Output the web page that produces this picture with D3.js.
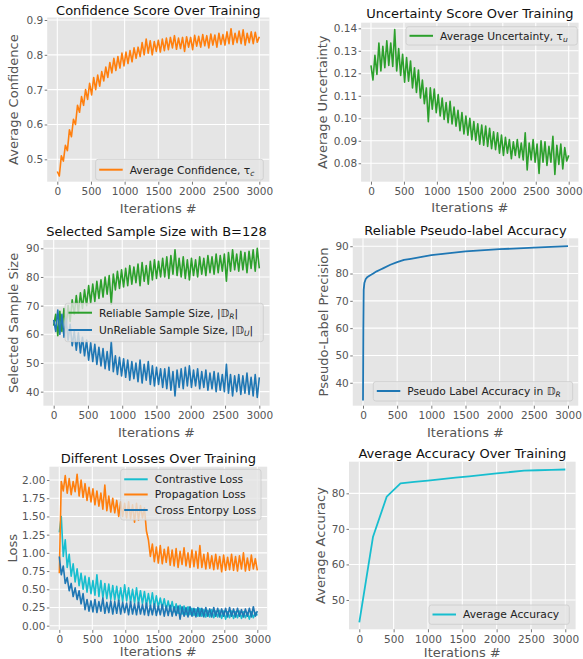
<!DOCTYPE html>
<meta charset="utf-8">
<style>
body {
  margin: 0;
  background-color: #fff;
}
svg text {
  font-family: "DejaVu Sans", sans-serif;
}
.grid line {
  stroke: #fff;
  stroke-width: 1.1px;
}
.axis .tick text {
  fill: #555;
  font-size: 10.5px;
  font-family: "DejaVu Sans", sans-serif;
}
.axis .tick line {
  stroke: #555;
  stroke-width: 0.8px;
}
.title {
  font-size: 13px;
  fill: #111;
}
.label {
  font-size: 13px;
  fill: #555;
}
.legend text {
  font-size: 10.7px;
  fill: #222;
}
</style>
<svg class="chart" width="583" height="659"></svg>

<script src="https://cdn.jsdelivr.net/npm/d3@7"></script>
<script>
// x positions shared by the noisy training curves (every 30 iterations)
var iters = d3.range(0, 3001, 30);
var xTicks = [0, 500, 1000, 1500, 2000, 2500, 3000];

var confidence = [
  0.465, 0.452, 0.51, 0.495, 0.54, 0.525, 0.585, 0.565, 0.615, 0.60,
  0.655, 0.635, 0.68, 0.655, 0.70, 0.672, 0.718, 0.685, 0.735, 0.70,
  0.742, 0.71, 0.752, 0.725, 0.765, 0.735, 0.778, 0.748, 0.79, 0.755,
  0.795, 0.762, 0.805, 0.768, 0.808, 0.775, 0.812, 0.78, 0.82, 0.79,
  0.822, 0.795, 0.835, 0.80, 0.845, 0.805, 0.84, 0.80, 0.838, 0.81,
  0.842, 0.808, 0.845, 0.812, 0.848, 0.815, 0.85, 0.82, 0.855, 0.816,
  0.848, 0.818, 0.85, 0.81, 0.852, 0.822, 0.85, 0.815, 0.856, 0.825,
  0.853, 0.822, 0.858, 0.826, 0.855, 0.82, 0.86, 0.828, 0.857, 0.822,
  0.862, 0.83, 0.858, 0.828, 0.866, 0.832, 0.875, 0.83, 0.862, 0.835,
  0.868, 0.832, 0.872, 0.828, 0.862, 0.835, 0.866, 0.832, 0.865, 0.836,
  0.852];

var uncertainty = [
  0.1235, 0.117, 0.128, 0.1195, 0.1335, 0.121, 0.132, 0.1225, 0.1345, 0.1235,
  0.1335, 0.123, 0.1395, 0.121, 0.131, 0.119, 0.1285, 0.116, 0.127, 0.1165,
  0.1255, 0.1135, 0.1225, 0.1115, 0.1215, 0.109, 0.117, 0.1065, 0.1135, 0.0985,
  0.1135, 0.104, 0.113, 0.1025, 0.1105, 0.101, 0.109, 0.0995, 0.107, 0.098,
  0.1075, 0.0975, 0.105, 0.0965, 0.1035, 0.0945, 0.1025, 0.093, 0.101, 0.0925,
  0.1, 0.0905, 0.0985, 0.09, 0.0975, 0.0885, 0.097, 0.088, 0.0965, 0.0875,
  0.0955, 0.0865, 0.094, 0.086, 0.0935, 0.0845, 0.0925, 0.0835, 0.0915, 0.0845,
  0.0905, 0.082, 0.0895, 0.0835, 0.0905, 0.0825, 0.089, 0.0815, 0.0935, 0.077,
  0.089, 0.0815, 0.0905, 0.0805, 0.0885, 0.0755, 0.09, 0.0805, 0.0895, 0.079,
  0.0875, 0.0805, 0.092, 0.075, 0.088, 0.0795, 0.0885, 0.0775, 0.087, 0.081,
  0.0835];

var reliableSize = [
  63, 67, 59.5, 68, 61, 69, 62.5, 70, 64.5, 72,
  67, 73.5, 67.5, 74.5, 69, 75.5, 70, 77, 71, 77.5,
  71.5, 78.5, 72.5, 79, 73, 80, 74, 80.5, 70.5, 81,
  75.5, 82, 76, 82.5, 76.5, 83, 77, 84, 77.5, 83.5,
  78, 84.5, 77, 85, 78.5, 84, 77.5, 85.5, 79, 86,
  79.5, 85.5, 80, 86.5, 80, 87, 79.5, 87.5, 81, 89.5,
  80.5, 86.5, 80, 87, 79.5, 86, 79, 86.5, 80.5, 86,
  80, 87, 81, 86.5, 80.5, 87.5, 81.5, 87, 81, 88,
  81.5, 87.5, 82, 88, 78.5, 88.5, 82, 89.5, 82.5, 88,
  82, 89, 82.5, 88.5, 81.5, 89, 83, 89.5, 82, 90,
  83];

var unreliableSize = [
  65, 61, 68.5, 60, 67, 59, 65.5, 58, 63.5, 56,
  61, 54.5, 60.5, 53.5, 59, 52.5, 58, 51, 57, 50.5,
  56.5, 49.5, 55.5, 49, 55, 48, 54, 47.5, 57.5, 47,
  52.5, 46, 52, 45.5, 51.5, 45, 51, 44, 50.5, 44.5,
  50, 43.5, 51, 43, 49.5, 44, 50.5, 42.5, 49, 42,
  48.5, 42.5, 48, 41.5, 48, 41, 48.5, 40.5, 47, 38.5,
  47.5, 41.5, 48, 41, 48.5, 42, 49, 41.5, 47.5, 42,
  48, 41, 47, 41.5, 47.5, 40.5, 46.5, 41, 47, 40,
  46.5, 40.5, 46, 40, 49.5, 39.5, 46, 38.5, 45.5, 40,
  46, 39, 45.5, 39.5, 46.5, 39, 45, 38.5, 46, 38,
  45];

var precIters = [0, 5, 10, 20, 40, 60, 100, 150, 200, 250, 300, 400, 500, 600, 700, 800, 1000, 1200, 1500, 2000, 2500, 3000];
var precision = [33.5, 60, 74, 76.5, 78, 78.6, 79.3, 80, 80.8, 81.4, 82, 83.2, 84.2, 85, 85.4, 85.8, 86.7, 87.3, 88.1, 88.9, 89.5, 90.0];

var contrastiveLoss = [
  1.28, 1.5, 0.95, 1.18, 0.8, 0.98, 0.68, 0.85, 0.6, 0.78,
  0.55, 0.72, 0.5, 0.68, 0.46, 0.66, 0.44, 0.62, 0.42, 0.7,
  0.4, 0.62, 0.38, 0.58, 0.37, 0.57, 0.36, 0.55, 0.35, 0.54,
  0.34, 0.52, 0.33, 0.56, 0.34, 0.52, 0.32, 0.5, 0.31, 0.52,
  0.3, 0.48, 0.3, 0.47, 0.28, 0.44, 0.27, 0.45, 0.26, 0.41,
  0.25, 0.38, 0.24, 0.37, 0.22, 0.34, 0.2, 0.33, 0.19, 0.3,
  0.17, 0.28, 0.16, 0.27, 0.15, 0.26, 0.15, 0.24, 0.14, 0.23,
  0.13, 0.24, 0.13, 0.22, 0.12, 0.21, 0.12, 0.22, 0.11, 0.2,
  0.12, 0.21, 0.1, 0.2, 0.09, 0.19, 0.11, 0.2, 0.1, 0.19,
  0.11, 0.2, 0.1, 0.19, 0.11, 0.18, 0.09, 0.19, 0.11, 0.18,
  0.14];

var propagationLoss = [
  0.72, 1.98, 1.85, 2.06, 1.82, 2.02, 1.8, 1.98, 1.84, 2.08,
  1.78, 2.0, 1.76, 1.95, 1.72, 1.9, 1.7, 1.88, 1.66, 1.85,
  1.64, 1.82, 1.6, 1.93, 1.58, 1.78, 1.56, 1.75, 1.55, 1.72,
  1.5, 1.7, 1.5, 1.68, 1.48, 1.7, 1.47, 1.66, 1.42, 1.68,
  1.45, 1.65, 1.48, 1.62, 1.3, 1.18, 0.95, 1.12, 0.88, 1.08,
  0.86, 1.1, 0.85, 1.05, 0.87, 1.08, 0.83, 1.04, 0.82, 1.06,
  0.8, 1.02, 0.84, 1.07, 0.82, 1.0, 0.8, 1.04, 0.81, 1.02,
  0.79, 1.1, 0.8, 0.98, 0.78, 1.0, 0.79, 0.96, 0.77, 0.98,
  0.78, 0.95, 0.74, 0.97, 0.76, 0.94, 0.77, 0.98, 0.76, 0.95,
  0.75, 0.96, 0.78, 1.0, 0.75, 0.93, 0.76, 0.97, 0.78, 0.92,
  0.76];

var crossEntropyLoss = [
  0.95, 0.7, 0.82, 0.58, 0.66, 0.48, 0.58, 0.4, 0.52, 0.36,
  0.48, 0.3, 0.44, 0.22, 0.36, 0.2, 0.34, 0.19, 0.36, 0.18,
  0.33, 0.2, 0.38, 0.17, 0.32, 0.18, 0.34, 0.16, 0.33, 0.17,
  0.35, 0.16, 0.32, 0.18, 0.31, 0.15, 0.33, 0.16, 0.3, 0.15,
  0.32, 0.16, 0.29, 0.15, 0.31, 0.14, 0.28, 0.15, 0.3, 0.14,
  0.27, 0.15, 0.29, 0.13, 0.27, 0.14, 0.28, 0.13, 0.26, 0.14,
  0.27, 0.09, 0.26, 0.13, 0.25, 0.12, 0.26, 0.13, 0.24, 0.12,
  0.25, 0.13, 0.24, 0.12, 0.25, 0.13, 0.23, 0.12, 0.25, 0.13,
  0.24, 0.12, 0.23, 0.13, 0.24, 0.12, 0.25, 0.13, 0.23, 0.12,
  0.24, 0.13, 0.22, 0.12, 0.23, 0.13, 0.24, 0.12, 0.26, 0.13,
  0.2];

var accIters = [0, 200, 400, 600, 800, 1000, 1200, 1400, 1600, 1800, 2000, 2200, 2400, 2600, 2800, 3000];
var accuracy = [43.7, 67.8, 79.1, 82.8, 83.2, 83.6, 84.0, 84.4, 84.8, 85.2, 85.6, 86.0, 86.4, 86.5, 86.6, 86.7];

var orange = "#ff7f0e", green = "#2ca02c", blue = "#1f77b4", cyan = "#17becf";

var svg = d3.select(".chart");

function drawPanel(p) {
  var x = d3.scaleLinear().domain([-150, 3150]).range([p.left, p.right]);
  var y = d3.scaleLinear().domain(p.ydom).range([p.bottom, p.top]);
  var g = svg.append("g");

  g.append("rect")
    .attr("x", p.left).attr("y", p.top)
    .attr("width", p.right - p.left).attr("height", p.bottom - p.top)
    .attr("fill", "#E5E5E5");

  // grid
  g.append("g").attr("class", "grid")
    .selectAll("line").data(xTicks).enter().append("line")
    .attr("x1", x).attr("x2", x).attr("y1", p.top).attr("y2", p.bottom);
  g.append("g").attr("class", "grid")
    .selectAll("line").data(p.yticks).enter().append("line")
    .attr("y1", y).attr("y2", y).attr("x1", p.left).attr("x2", p.right);

  g.append("g").attr("class", "axis")
    .attr("transform", "translate(0," + p.bottom + ")")
    .call(d3.axisBottom(x).tickValues(xTicks).tickSize(3).tickPadding(3).tickFormat(d3.format("d")))
    .call(function(a) { a.select(".domain").remove(); });
  g.append("g").attr("class", "axis")
    .attr("transform", "translate(" + p.left + ",0)")
    .call(d3.axisLeft(y).tickValues(p.yticks).tickSize(2.5).tickPadding(1.5).tickFormat(d3.format(p.fmt)))
    .call(function(a) { a.select(".domain").remove(); });

  p.series.forEach(function(s) {
    var pts = s.ys.map(function(v, i) { return [s.xs[i], v]; });
    g.append("path")
      .datum(pts)
      .attr("fill", "none")
      .attr("stroke", s.color)
      .attr("stroke-width", s.width)
      .attr("stroke-linejoin", "round")
      .attr("d", d3.line().x(function(d) { return x(d[0]); }).y(function(d) { return y(d[1]); }));
  });

  g.append("text").attr("class", "title")
    .attr("x", (p.left + p.right) / 2).attr("y", p.titleY)
    .attr("text-anchor", "middle").text(p.title);
  g.append("text").attr("class", "label")
    .attr("x", (p.left + p.right) / 2).attr("y", p.xlabelY)
    .attr("text-anchor", "middle").text("Iterations #");
  g.append("text").attr("class", "label")
    .attr("transform", "translate(" + p.ylabelX + "," + (p.top + p.bottom) / 2 + ") rotate(-90)")
    .attr("text-anchor", "middle").text(p.ylabel);

  // legend
  var lg = g.append("g").attr("class", "legend");
  var L = p.legend;
  lg.append("rect")
    .attr("x", L.x).attr("y", L.y).attr("width", L.w).attr("height", L.h)
    .attr("rx", 2.5)
    .attr("fill", "#E5E5E5").attr("fill-opacity", 0.8)
    .attr("stroke", "#cccccc").attr("stroke-width", 0.8);
  L.items.forEach(function(it, i) {
    var ly = L.rows[i];
    lg.append("line")
      .attr("x1", L.x + 3.5).attr("x2", L.x + 27)
      .attr("y1", ly).attr("y2", ly)
      .attr("stroke", p.series[it.s].color).attr("stroke-width", 2);
    var t = lg.append("text").attr("x", L.x + 34).attr("y", ly + 3.8);
    var shifted = false;
    it.parts.forEach(function(part) {
      var sp = t.append("tspan").text(part.t);
      if (part.sub) {
        sp.attr("dy", 2.6).style("font-size", "7.5px").style("font-style", "italic");
        shifted = true;
      } else if (shifted) {
        sp.attr("dy", -2.6);
        shifted = false;
      }
    });
  });
}

drawPanel({
  left: 47.2, right: 269.4, top: 17.5, bottom: 181.7,
  ydom: [0.4357, 0.9072], yticks: [0.5, 0.6, 0.7, 0.8, 0.9], fmt: ".1f",
  title: "Confidence Score Over Training", titleY: 14.5,
  ylabel: "Average Confidence", ylabelX: 17.5, xlabelY: 213,
  series: [{ xs: iters, ys: confidence, color: orange, width: 1.6 }],
  legend: { x: 95.7, y: 159.3, w: 167.6, h: 20.7, rows: [169.7],
    items: [{ s: 0, parts: [{ t: "Average Confidence, τ" }, { t: "c", sub: true }] }] }
});

drawPanel({
  left: 361.1, right: 578.6, top: 22.7, bottom: 181.7,
  ydom: [0.0718, 0.1425], yticks: [0.08, 0.09, 0.10, 0.11, 0.12, 0.13, 0.14], fmt: ".2f",
  title: "Uncertainty Score Over Training", titleY: 18,
  ylabel: "Average Uncertainty", ylabelX: 327, xlabelY: 211.7,
  series: [{ xs: iters, ys: uncertainty, color: green, width: 1.6 }],
  legend: { x: 406, y: 26.7, w: 171.3, h: 18.3, rows: [35.8],
    items: [{ s: 0, parts: [{ t: "Average Uncertainty, τ" }, { t: "u", sub: true }] }] }
});

drawPanel({
  left: 43.4, right: 269.6, top: 240, bottom: 405.7,
  ydom: [35.1, 92.9], yticks: [40, 50, 60, 70, 80, 90], fmt: "d",
  title: "Selected Sample Size with B=128", titleY: 235.5,
  ylabel: "Selected Sample Size", ylabelX: 18, xlabelY: 436.5,
  series: [
    { xs: iters, ys: reliableSize, color: green, width: 1.6 },
    { xs: iters, ys: unreliableSize, color: blue, width: 1.6 }
  ],
  legend: { x: 65, y: 303.3, w: 198.3, h: 38.4, rows: [312.7, 330],
    items: [
      { s: 0, parts: [{ t: "Reliable Sample Size, |𝔻" }, { t: "R", sub: true }, { t: "|" }] },
      { s: 1, parts: [{ t: "UnReliable Sample Size, |𝔻" }, { t: "U", sub: true }, { t: "|" }] }
    ] }
});

drawPanel({
  left: 352.75, right: 578.25, top: 238.3, bottom: 405.7,
  ydom: [31.6, 92.9], yticks: [40, 50, 60, 70, 80, 90], fmt: "d",
  title: "Reliable Pseudo-label Accuracy", titleY: 235,
  ylabel: "Pseudo-Label Precision", ylabelX: 328, xlabelY: 436.5,
  series: [{ xs: precIters, ys: precision, color: blue, width: 1.8 }],
  legend: { x: 373.3, y: 381.7, w: 199.4, h: 19.3, rows: [391],
    items: [{ s: 0, parts: [{ t: "Pseudo Label Accuracy in 𝔻" }, { t: "R", sub: true }] }] }
});

drawPanel({
  left: 49.4, right: 267.2, top: 466.7, bottom: 629.9,
  ydom: [-0.058, 2.183], yticks: [0, 0.25, 0.5, 0.75, 1.0, 1.25, 1.5, 1.75, 2.0], fmt: ".2f",
  title: "Different Losses Over Training", titleY: 463,
  ylabel: "Loss", ylabelX: 16.5, xlabelY: 656,
  series: [
    { xs: iters, ys: contrastiveLoss, color: cyan, width: 1.6 },
    { xs: iters, ys: propagationLoss, color: orange, width: 1.6 },
    { xs: iters, ys: crossEntropyLoss, color: blue, width: 1.6 }
  ],
  legend: { x: 120.7, y: 469.3, w: 140.3, h: 50.7, rows: [479.3, 494.5, 510],
    items: [
      { s: 0, parts: [{ t: "Contrastive Loss" }] },
      { s: 1, parts: [{ t: "Propagation Loss" }] },
      { s: 2, parts: [{ t: "Cross Entorpy Loss" }] }
    ] }
});

drawPanel({
  left: 349, right: 575.6, top: 461.7, bottom: 629.3,
  ydom: [41.75, 88.9], yticks: [50, 60, 70, 80], fmt: "d",
  title: "Average Accuracy Over Training", titleY: 458,
  ylabel: "Average Accuracy", ylabelX: 324.5, xlabelY: 656.5,
  series: [{ xs: accIters, ys: accuracy, color: cyan, width: 1.8 }],
  legend: { x: 429, y: 605, w: 140.3, h: 19.3, rows: [614.5],
    items: [{ s: 0, parts: [{ t: "Average Accuracy" }] }] }
});
</script>
